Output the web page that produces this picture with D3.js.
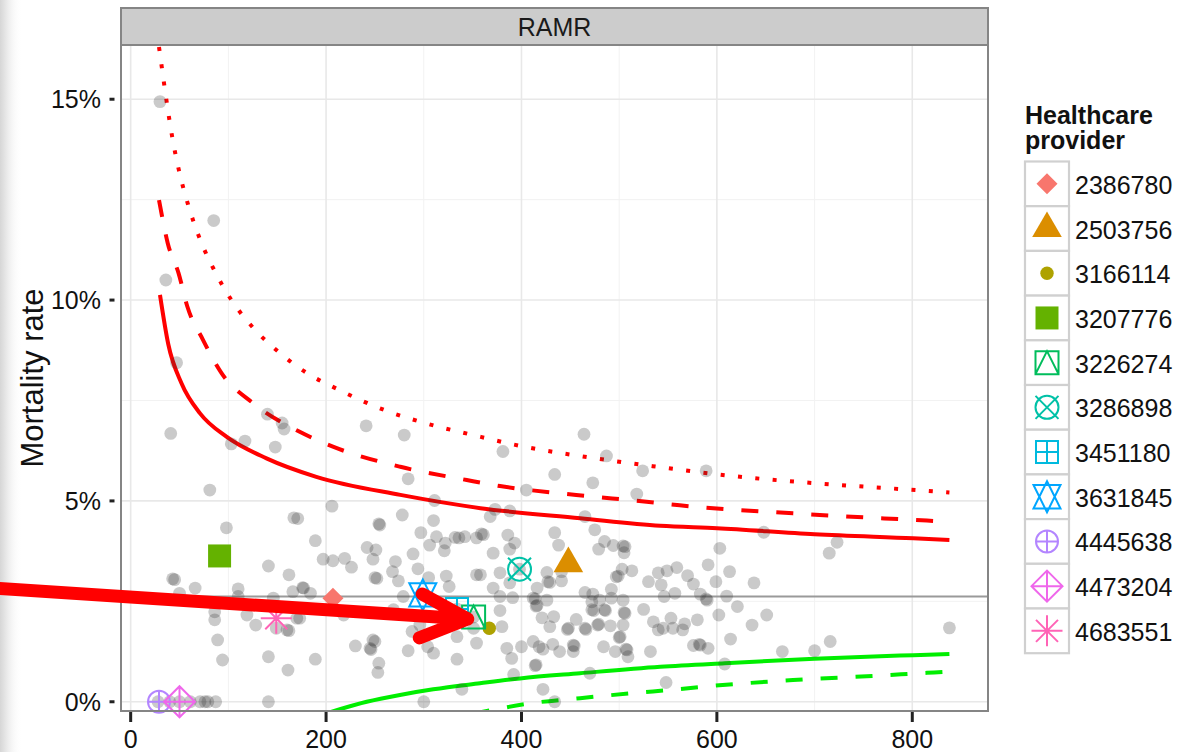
<!DOCTYPE html>
<html>
<head>
<meta charset="utf-8">
<script src="https://cdn.jsdelivr.net/npm/d3@7"></script>
<style>
  body { margin: 0; background: #fff; }
  svg { display: block; font-family: "Liberation Sans", Arial, sans-serif; }
</style>
</head>
<body>
<svg id="chart" width="1180" height="752"></svg>
<script>
// all providers (grey): [cases, mortality rate %]
var allProviders = [
  [30,14.94],[85,11.98],[36,10.50],[47,8.44],[41,6.68],[103,6.42],[117,6.49],[140,7.16],[155,6.94],[157,6.79],
  [148,6.34],[81,5.27],[241,6.87],[280,6.64],[284,5.55],[206,4.87],[167,4.58],[171,4.56],[98,4.33],[254,4.43],
  [255,4.40],[278,4.65],[311,5.01],[310,4.51],[297,4.21],[313,4.11],[332,4.09],[336,4.08],[342,4.11],[354,4.08],
  [189,4.01],[242,3.84],[251,3.78],[248,3.55],[289,3.68],[306,3.90],[322,3.95],[321,3.76],[197,3.55],[207,3.51],
  [219,3.57],[226,3.35],[271,3.49],[268,3.24],[294,3.31],[250,3.09],[252,3.07],[274,3.01],[305,3.09],[323,3.13],
  [326,2.87],[354,3.16],[177,2.83],[184,2.70],[279,2.62],[173,2.08],[218,2.16],[269,2.29],[288,1.75],[296,1.91],
  [334,1.62],[354,1.46],[248,1.54],[250,1.50],[245,1.33],[246,1.30],[230,1.39],[189,1.06],[254,0.96],[253,0.73],
  [284,1.27],[304,1.37],[310,1.21],[334,1.06],[339,0.31],[300,0],[351,1.83],
  [43,3.06],[45,3.04],[50,2.70],[66,2.83],[110,2.81],[110,2.62],[141,3.38],[162,3.16],[146,2.58],[166,2.74],
  [86,2.24],[86,2.04],[119,2.16],[128,1.91],[149,1.83],[160,1.79],[162,1.77],[170,2.08],[89,1.54],[94,1.04],
  [141,1.12],[161,0.79],[141,0],[28,0],[40,0],[50,0],[61,0],[71,0],[76,0],[79,0],[87,0],[176,2.84],
  [464,6.66],[381,6.23],[487,6.12],[524,5.75],[434,5.66],[473,5.45],[405,5.27],[518,5.17],[373,4.79],[388,4.75],
  [368,4.61],[465,4.61],[359,4.18],[361,4.16],[386,4.15],[434,4.21],[475,4.28],[393,3.95],[388,3.80],[438,3.90],
  [485,3.99],[479,3.80],[494,3.89],[506,3.86],[504,3.88],[505,3.71],[371,3.70],[358,3.16],[378,3.21],[388,2.96],
  [426,3.22],[441,3.24],[427,2.99],[429,2.97],[441,3.01],[416,2.83],[503,3.30],[513,3.26],[497,3.11],[499,3.13],
  [530,2.99],[540,3.21],[492,2.80],[371,2.83],[378,2.62],[391,2.59],[412,2.58],[414,2.56],[426,2.53],[415,2.38],
  [416,2.40],[465,2.72],[473,2.68],[472,2.49],[472,2.29],[474,2.27],[485,2.29],[486,2.27],[480,2.53],[492,2.58],
  [504,2.53],[506,2.20],[505,2.22],[504,1.91],[525,2.30],[378,2.27],[380,1.87],[421,2.09],[433,2.12],[429,1.87],
  [448,1.83],[447,1.80],[456,2.05],[465,1.83],[466,1.80],[479,1.93],[478,1.91],[491,1.89],[501,1.62],[500,1.60],
  [535,1.99],[540,1.79],[400,1.37],[385,1.33],[390,1.08],[412,1.50],[418,1.37],[432,1.43],[439,1.25],[453,1.41],
  [454,1.39],[453,1.25],[422,1.31],[415,0.92],[414,0.90],[484,1.37],[496,1.25],[508,1.29],[507,1.31],[509,1.12],
  [532,1.25],[470,0.71],[392,0.68],[422,0.31],[434,0],
  [589,5.75],[648,4.22],[723,3.97],[715,3.70],[603,3.82],[591,3.41],[559,3.34],[549,3.26],[570,3.14],[613,3.24],
  [576,2.93],[599,2.99],[638,2.96],[543,2.91],[557,2.70],[546,2.62],[583,2.68],[590,2.53],[589,2.56],[610,2.63],
  [621,2.37],[602,2.16],[651,2.16],[636,1.91],[553,2.08],[567,1.94],[580,2.04],[545,1.83],[555,1.83],[565,1.79],
  [614,1.56],[576,1.40],[583,1.41],[582,1.43],[591,1.33],[667,1.25],[700,1.27],[716,1.50],[838,1.84],[608,0.94],
  [548,0.48],
  [207,2.58],[448,3.44],[367,1.83],[91,3.63],[351,2.11],[398,3.30],[334,2.31],[299,2.66]
];

// highlighted providers
var providerIds   = ["2386780","2503756","3166114","3207776","3226274","3286898","3451180","3631845","4445638","4473204","4683551"];
var providerN     = [207, 448, 367, 91, 351, 398, 334, 299, 29, 50, 149];
var providerRate  = [2.58, 3.44, 1.83, 3.63, 2.11, 3.30, 2.31, 2.66, 0, 0, 2.08];
var providerShape = ["diamond","triangle","dot","square","squareTriangle","circleCross","squarePlus","star","circlePlus","diamondPlus","asterisk"];
var providerColor = ["#F8766D","#DB8E00","#AEA200","#64B200","#00BD5C","#00C1A7","#00BADE","#00A6FF","#B385FF","#EF67EB","#FF63B6"];

// overall rate and funnel limits [cases, rate %]
var overallRate = 2.62;
var upperSolid = [[30,10.13],[38.5,8.9],[52,7.93],[71,7.18],[98,6.60],[139,6.06],[190,5.60],[276,5.15],[358,4.82],[460,4.57],[542,4.38],[600,4.32],[700,4.17],[801,4.07],[838,4.03]];
var upperDashed = [[29,12.49],[38,11.41],[49,10.67],[58,9.84],[74,9.01],[93,8.18],[125.5,7.43],[173,6.72],[207,6.35],[276,5.85],[344,5.52],[378,5.37],[456,5.15],[528,4.98],[562,4.89],[678,4.69],[815,4.51],[838,4.48]];
var upperDotted = [[29,16.3],[31.8,15.81],[36.7,14.96],[42.3,14.09],[49.3,13.24],[58.6,12.39],[70.2,11.56],[85,10.77],[102.6,10.02],[125,9.32],[150.8,8.72],[179.3,8.20],[211,7.79],[260,7.26],[311.5,6.87],[347,6.66],[398.5,6.37],[470,6.08],[542,5.84],[612,5.63],[701,5.44],[791,5.29],[838,5.21]];
var lowerSolid = [[195,-0.33],[241.6,0.0],[275.6,0.17],[309.7,0.31],[357.5,0.46],[398.5,0.58],[460,0.71],[542,0.87],[608,0.96],[700,1.07],[801,1.16],[838,1.19]];
var lowerDashed = [[350,-0.3],[371,-0.2],[408.7,-0.04],[460,0.09],[521,0.23],[550,0.29],[593,0.39],[678,0.54],[764,0.65],[815,0.72],[838,0.75]];

var xMajor = [0, 200, 400, 600, 800];
var xMinor = [100, 300, 500, 700];
var yMajor = [0, 5, 10, 15];
var yMinor = [2.5, 7.5, 12.5];

// annotation arrow (data coords): from off the left edge to provider 3226274
var arrowFrom = [-140, 2.83];
var arrowTo = [345, 2.06];

var svg = d3.select("#chart");

var x = d3.scaleLinear().domain([-9.9, 877.5]).range([121, 988]);
var y = d3.scaleLinear().domain([-0.23, 16.35]).range([711, 45]);

var defs = svg.append("defs");
defs.append("clipPath").attr("id", "panel")
  .append("rect").attr("x", 121).attr("y", 45).attr("width", 867).attr("height", 666);
var grad = defs.append("linearGradient").attr("id", "shade");
grad.append("stop").attr("offset", "0").attr("stop-color", "#d6d6d6");
grad.append("stop").attr("offset", "0.35").attr("stop-color", "#ececec");
grad.append("stop").attr("offset", "1").attr("stop-color", "#ffffff").attr("stop-opacity", 0);

svg.append("rect").attr("width", 1180).attr("height", 752).attr("fill", "#fff");
svg.append("rect").attr("width", 22).attr("height", 752).attr("fill", "url(#shade)");

// grid
var grid = svg.append("g");
grid.selectAll(".xmin").data(xMinor).enter().append("line")
  .attr("x1", d => x(d)).attr("x2", d => x(d)).attr("y1", 45).attr("y2", 711)
  .attr("stroke", "#f2f2f2").attr("stroke-width", 1);
grid.selectAll(".ymin").data(yMinor).enter().append("line")
  .attr("y1", d => y(d)).attr("y2", d => y(d)).attr("x1", 121).attr("x2", 988)
  .attr("stroke", "#f2f2f2").attr("stroke-width", 1);
grid.selectAll(".xmaj").data(xMajor).enter().append("line")
  .attr("x1", d => x(d)).attr("x2", d => x(d)).attr("y1", 45).attr("y2", 711)
  .attr("stroke", "#e8e8e8").attr("stroke-width", 1.6);
grid.selectAll(".ymaj").data(yMajor).enter().append("line")
  .attr("y1", d => y(d)).attr("y2", d => y(d)).attr("x1", 121).attr("x2", 988)
  .attr("stroke", "#e8e8e8").attr("stroke-width", 1.6);

var plot = svg.append("g").attr("clip-path", "url(#panel)");

// overall rate
plot.append("line")
  .attr("x1", 121).attr("x2", 988).attr("y1", y(overallRate)).attr("y2", y(overallRate))
  .attr("stroke", "#9a9a9a").attr("stroke-width", 2);

// funnel limits
var line = d3.line().x(d => x(d[0])).y(d => y(d[1])).curve(d3.curveMonotoneX);
var limits = [
  [upperDotted, "#ff0000", "4,13.4"],
  [upperDashed, "#ff0000", "17,18"],
  [upperSolid, "#ff0000", null],
  [lowerSolid, "#00ee00", null],
  [lowerDashed, "#00ee00", "17,18"]
];
limits.forEach(function (l) {
  plot.append("path").datum(l[0]).attr("d", line)
    .attr("fill", "none").attr("stroke", l[1]).attr("stroke-width", 4)
    .attr("stroke-dasharray", l[2]);
});

// all providers
plot.selectAll(".pt").data(allProviders).enter().append("circle")
  .attr("cx", d => x(d[0])).attr("cy", d => y(d[1])).attr("r", 6.4)
  .attr("fill", "#333").attr("fill-opacity", 0.26);

// symbol paths
function shapePath(t) {
  var p = d3.path();
  function poly(pts) { p.moveTo(pts[0][0], pts[0][1]); for (var i = 1; i < pts.length; i++) p.lineTo(pts[i][0], pts[i][1]); p.closePath(); }
  function seg(a, b, c, d) { p.moveTo(a, b); p.lineTo(c, d); }
  function circ(r) { p.moveTo(r, 0); p.arc(0, 0, r, 0, 2 * Math.PI); }
  function sq(h) { poly([[-h, -h], [h, -h], [h, h], [-h, h]]); }
  switch (t) {
    case "diamond": poly([[0, -10.5], [10.5, 0], [0, 10.5], [-10.5, 0]]); break;
    case "triangle": poly([[0, -17.1], [14.8, 8.55], [-14.8, 8.55]]); break;
    case "dot": circ(6.7); break;
    case "square": sq(11.5); break;
    case "squareTriangle": sq(11.5); p.moveTo(-11.5, 11.5); p.lineTo(0, -11.5); p.lineTo(11.5, 11.5); break;
    case "circleCross": circ(11.5); seg(-11.5, -11.5, 11.5, 11.5); seg(-11.5, 11.5, 11.5, -11.5); break;
    case "squarePlus": sq(11); seg(-11, 0, 11, 0); seg(0, -11, 0, 11); break;
    case "star": poly([[0, -15.5], [13.5, 11.7], [-13.5, 11.7]]); poly([[0, 15.5], [13.5, -11.7], [-13.5, -11.7]]); break;
    case "circlePlus": circ(11); seg(-11, 0, 11, 0); seg(0, -11, 0, 11); break;
    case "diamondPlus": poly([[0, -15.5], [15.5, 0], [0, 15.5], [-15.5, 0]]); seg(-15.5, 0, 15.5, 0); seg(0, -15.5, 0, 15.5); break;
    case "asterisk": seg(-15.5, 0, 15.5, 0); seg(0, -15.5, 0, 15.5); seg(-11, -11, 11, 11); seg(-11, 11, 11, -11); break;
  }
  return p.toString();
}
var filled = { diamond: 1, triangle: 1, dot: 1, square: 1 };
function drawSymbol(g, i) {
  var t = providerShape[i];
  g.append("path").attr("d", shapePath(t))
    .attr("fill", filled[t] ? providerColor[i] : "none")
    .attr("stroke", filled[t] ? "none" : providerColor[i])
    .attr("stroke-width", 2);
}

var hl = svg.append("g");
providerIds.forEach(function (id, i) {
  var g = hl.append("g").attr("transform", "translate(" + x(providerN[i]) + "," + y(providerRate[i]) + ")");
  drawSymbol(g, i);
});

// panel border
svg.append("rect").attr("x", 121).attr("y", 45).attr("width", 867).attr("height", 666)
  .attr("fill", "none").attr("stroke", "#858585").attr("stroke-width", 2);

// strip
svg.append("rect").attr("x", 121).attr("y", 8).attr("width", 867).attr("height", 37)
  .attr("fill", "#cccccc").attr("stroke", "#858585").attr("stroke-width", 2);
svg.append("text").attr("x", 554.5).attr("y", 35.5).attr("text-anchor", "middle")
  .attr("font-size", 25).attr("fill", "#1a1a1a").text("RAMR");

// axes
var ax = svg.append("g");
ax.selectAll(".xt").data(xMajor).enter().append("line")
  .attr("x1", d => x(d)).attr("x2", d => x(d)).attr("y1", 712).attr("y2", 722)
  .attr("stroke", "#222").attr("stroke-width", 3);
ax.selectAll(".xl").data(xMajor).enter().append("text")
  .attr("x", d => x(d)).attr("y", 748).attr("text-anchor", "middle")
  .attr("font-size", 25).attr("fill", "#111").text(d => d);
ax.selectAll(".yt").data(yMajor).enter().append("line")
  .attr("x1", 109.5).attr("x2", 114.5).attr("y1", d => y(d)).attr("y2", d => y(d))
  .attr("stroke", "#222").attr("stroke-width", 3);
ax.selectAll(".yl").data(yMajor).enter().append("text")
  .attr("x", 101).attr("y", d => y(d)).attr("dy", "0.36em").attr("text-anchor", "end")
  .attr("font-size", 25).attr("fill", "#111").text(d => d + "%");
svg.append("text").attr("transform", "translate(43,378) rotate(-90)")
  .attr("text-anchor", "middle").attr("font-size", 31).attr("fill", "#111").text("Mortality rate");

// legend
var lg = svg.append("g");
lg.append("text").attr("x", 1025).attr("y", 124).attr("font-size", 25).attr("font-weight", "bold").attr("fill", "#111").text("Healthcare");
lg.append("text").attr("x", 1025).attr("y", 149).attr("font-size", 25).attr("font-weight", "bold").attr("fill", "#111").text("provider");
var rowH = 44.7, top0 = 161.5;
providerIds.forEach(function (id, i) {
  var cy = top0 + rowH * i + rowH / 2;
  lg.append("rect").attr("x", 1025).attr("y", top0 + rowH * i).attr("width", 44).attr("height", rowH)
    .attr("fill", "#fff").attr("stroke", "#d0d0d0").attr("stroke-width", 2.2);
  var g = lg.append("g").attr("transform", "translate(1047," + cy + ")");
  drawSymbol(g, i);
  lg.append("text").attr("x", 1075).attr("y", cy + 10).attr("font-size", 25).attr("fill", "#111").text(id);
});

// annotation arrow
var p0 = [x(arrowFrom[0]), y(arrowFrom[1])], p1 = [x(arrowTo[0]), y(arrowTo[1])];
var ang = Math.atan2(p0[1] - p1[1], p0[0] - p1[0]);
var headLen = 52, spread = 25 * Math.PI / 180;
var a1 = [p1[0] + headLen * Math.cos(ang + spread), p1[1] + headLen * Math.sin(ang + spread)];
var a2 = [p1[0] + headLen * Math.cos(ang - spread), p1[1] + headLen * Math.sin(ang - spread)];
svg.append("path")
  .attr("d", "M" + p0 + "L" + p1 + "M" + a1 + "L" + p1 + "L" + a2)
  .attr("fill", "none").attr("stroke", "#ff0000").attr("stroke-width", 13)
  .attr("stroke-linecap", "round").attr("stroke-linejoin", "round");
</script>
</body>
</html>
